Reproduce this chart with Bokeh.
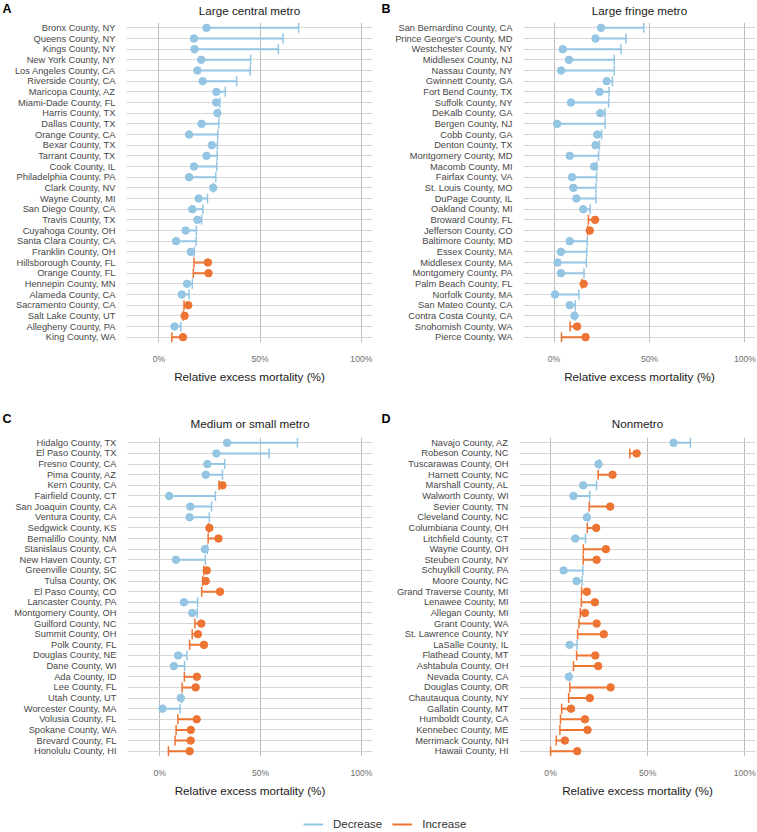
import math
from bokeh.plotting import figure
from bokeh.models import FactorRange, Range1d, FixedTicker, ColumnDataSource
from bokeh.core.properties import value
from bokeh.layouts import column, row
from bokeh.embed import file_html
from bokeh.resources import INLINE

# ---------------- data ----------------
x_ticks = [0, 50, 100]
x_tick_labels = ["0%", "50%", "100%"]
x_axis_title = "Relative excess mortality (%)"
legend_labels = ["Decrease", "Increase"]
panel_tags = ["A", "B", "C", "D"]

title_a = "Large central metro"
counties_a = ["Bronx County, NY", "Queens County, NY", "Kings County, NY", "New York County, NY",
              "Los Angeles County, CA", "Riverside County, CA", "Maricopa County, AZ", "Miami-Dade County, FL",
              "Harris County, TX", "Dallas County, TX", "Orange County, CA", "Bexar County, TX",
              "Tarrant County, TX", "Cook County, IL", "Philadelphia County, PA", "Clark County, NV",
              "Wayne County, MI", "San Diego County, CA", "Travis County, TX", "Cuyahoga County, OH",
              "Santa Clara County, CA", "Franklin County, OH", "Hillsborough County, FL", "Orange County, FL",
              "Hennepin County, MN", "Alameda County, CA", "Sacramento County, CA", "Salt Lake County, UT",
              "Allegheny County, PA", "King County, WA"]
start_a = [69.0, 61.3, 59.0, 45.3, 45.1, 38.4, 32.8, 30.1, 29.7, 29.6, 29.1, 28.9, 28.8, 28.6, 28.1,
           27.0, 24.0, 21.7, 21.1, 18.5, 18.4, 17.5, 17.3, 17.0, 16.5, 14.9, 12.4, 12.0, 10.8, 6.4]
end_a = [23.5, 17.3, 17.6, 20.9, 19.0, 21.6, 28.4, 28.3, 28.9, 21.1, 14.9, 26.1, 23.5, 17.3, 14.9,
         26.8, 19.6, 16.5, 19.0, 13.2, 8.5, 15.8, 24.2, 24.5, 13.9, 11.3, 14.5, 12.7, 7.7, 11.9]

title_b = "Large fringe metro"
counties_b = ["San Bernardino County, CA", "Prince George's County, MD", "Westchester County, NY",
              "Middlesex County, NJ", "Nassau County, NY", "Gwinnett County, GA", "Fort Bend County, TX",
              "Suffolk County, NY", "DeKalb County, GA", "Bergen County, NJ", "Cobb County, GA",
              "Denton County, TX", "Montgomery County, MD", "Macomb County, MI", "Fairfax County, VA",
              "St. Louis County, MO", "DuPage County, IL", "Oakland County, MI", "Broward County, FL",
              "Jefferson County, CO", "Baltimore County, MD", "Essex County, MA", "Middlesex County, MA",
              "Montgomery County, PA", "Palm Beach County, FL", "Norfolk County, MA", "San Mateo County, CA",
              "Contra Costa County, CA", "Snohomish County, WA", "Pierce County, WA"]
start_b = [47.0, 37.7, 35.1, 31.5, 31.5, 30.6, 28.8, 28.6, 26.7, 26.7, 24.9, 23.8, 23.3, 22.4, 22.3,
           21.9, 21.9, 18.9, 18.0, 17.6, 17.4, 17.1, 16.9, 15.7, 14.6, 13.0, 11.1, 11.0, 8.4, 3.9]
end_b = [24.6, 21.7, 4.6, 7.8, 3.7, 27.6, 23.8, 8.9, 24.2, 1.6, 22.6, 21.7, 8.2, 21.0, 9.4,
         10.1, 11.7, 15.3, 21.5, 18.7, 8.2, 3.6, 1.8, 3.6, 15.5, 0.5, 8.2, 10.7, 12.1, 16.5]

title_c = "Medium or small metro"
counties_c = ["Hidalgo County, TX", "El Paso County, TX", "Fresno County, CA", "Pima County, AZ",
              "Kern County, CA", "Fairfield County, CT", "San Joaquin County, CA", "Ventura County, CA",
              "Sedgwick County, KS", "Bernalillo County, NM", "Stanislaus County, CA", "New Haven County, CT",
              "Greenville County, SC", "Tulsa County, OK", "El Paso County, CO", "Lancaster County, PA",
              "Montgomery County, OH", "Guilford County, NC", "Summit County, OH", "Polk County, FL",
              "Douglas County, NE", "Dane County, WI", "Ada County, ID", "Lee County, FL",
              "Utah County, UT", "Worcester County, MA", "Volusia County, FL", "Spokane County, WA",
              "Brevard County, FL", "Honolulu County, HI"]
start_c = [68.3, 54.2, 32.2, 31.1, 29.4, 27.6, 25.7, 24.6, 24.2, 24.0, 23.6, 22.6, 21.8, 21.3, 20.8,
           18.8, 18.6, 17.4, 16.1, 14.8, 13.5, 12.3, 12.2, 11.1, 10.9, 10.1, 9.0, 8.1, 7.6, 4.3]
end_c = [33.4, 28.1, 23.6, 22.8, 31.1, 4.7, 15.1, 14.8, 24.6, 29.1, 22.4, 8.0, 23.3, 22.8, 29.9,
         12.0, 16.1, 20.6, 18.9, 21.9, 9.1, 7.0, 18.4, 17.8, 10.4, 1.3, 18.3, 15.4, 15.3, 14.8]

title_d = "Nonmetro"
counties_d = ["Navajo County, AZ", "Robeson County, NC", "Tuscarawas County, OH", "Harnett County, NC",
              "Marshall County, AL", "Walworth County, WI", "Sevier County, TN", "Cleveland County, NC",
              "Columbiana County, OH", "Litchfield County, CT", "Wayne County, OH", "Steuben County, NY",
              "Schuylkill County, PA", "Moore County, NC", "Grand Traverse County, MI", "Lenawee County, MI",
              "Allegan County, MI", "Grant County, WA", "St. Lawrence County, NY", "LaSalle County, IL",
              "Flathead County, MT", "Ashtabula County, OH", "Nevada County, CA", "Douglas County, OR",
              "Chautauqua County, NY", "Gallatin County, MT", "Humboldt County, CA", "Kennebec County, ME",
              "Merrimack County, NH", "Hawaii County, HI"]
start_d = [72.0, 40.8, 25.2, 24.5, 23.7, 20.2, 19.9, 19.2, 18.9, 18.0, 16.9, 16.8, 16.6, 16.2, 16.0,
           15.8, 15.3, 14.6, 13.9, 13.6, 13.4, 11.8, 10.1, 9.9, 9.3, 5.7, 5.1, 4.8, 2.9, 0.0]
end_d = [63.3, 44.3, 24.7, 31.9, 16.8, 11.8, 30.7, 18.7, 23.5, 12.7, 28.5, 23.7, 6.7, 13.4, 18.7,
         22.8, 17.7, 23.7, 27.4, 9.8, 23.0, 24.5, 9.4, 30.9, 20.2, 10.5, 17.7, 19.0, 7.4, 13.7]

# ---------------- style / layout ----------------
BLUE = "#94C5E3"
ORANGE = "#ED7432"
FONT = "Liberation Sans"
X_START, X_END = -16, 105.5
COL_W = 378


def make_panel(counties, start, end, width, height, left, top, bottom, right):
    colors = [BLUE if e < s else ORANGE for s, e in zip(start, end)]
    src = ColumnDataSource(dict(county=counties, start=start, end=end, color=colors))
    p = figure(width=width, height=height,
               y_range=FactorRange(factors=list(reversed(counties))),
               x_range=Range1d(X_START, X_END),
               output_backend="svg", toolbar_location=None,
               min_border_left=left, min_border_top=top,
               min_border_bottom=bottom, min_border_right=right)
    p.outline_line_color = None
    p.background_fill_color = "white"
    p.border_fill_color = "white"

    ticker = FixedTicker(ticks=x_ticks)
    p.xaxis.ticker = ticker
    p.xgrid.ticker = ticker
    p.xaxis.major_label_overrides = {t: l for t, l in zip(x_ticks, x_tick_labels)}
    p.xaxis.axis_label = x_axis_title
    p.xaxis.axis_label_text_font = FONT
    p.xaxis.axis_label_text_font_size = "11.7px"
    p.xaxis.axis_label_text_font_style = "normal"
    p.xaxis.axis_label_text_color = "#1a1a1a"
    p.xaxis.axis_label_standoff = 3
    p.xaxis.major_label_text_font = FONT
    p.xaxis.major_label_text_font_size = "8.6px"
    p.xaxis.major_label_text_color = "#6e6e6e"
    p.xaxis.major_label_standoff = 5
    p.xaxis.axis_line_color = None
    p.xaxis.major_tick_line_color = None
    p.xaxis.minor_tick_line_color = None

    p.yaxis.axis_line_color = None
    p.yaxis.major_tick_line_color = None
    p.yaxis.minor_tick_line_color = None
    p.yaxis.major_label_text_font = FONT
    p.yaxis.major_label_text_font_size = "9.3px"
    p.yaxis.major_label_text_color = "#474747"
    p.yaxis.major_label_standoff = 5

    p.xgrid.grid_line_color = "#bdbdbd"
    p.xgrid.grid_line_width = 1
    p.ygrid.grid_line_color = "#d6d6d6"
    p.ygrid.grid_line_width = 1

    p.segment(x0="start", y0="county", x1="end", y1="county", source=src,
              line_color="color", line_width=2)
    p.scatter(x="start", y="county", source=src, marker="dash", angle=math.pi / 2,
              size=10, line_color="color", line_width=1.5)
    p.scatter(x="end", y="county", source=src, marker="circle", size=7.5,
              fill_color="color", line_color="color")
    return p


def make_strip(height, tags, titles, title_centers, tag_y, title_y):
    s = figure(width=2 * COL_W, height=height, x_range=Range1d(0, 2 * COL_W),
               y_range=Range1d(height, 0), output_backend="svg", toolbar_location=None,
               min_border_left=0, min_border_right=0, min_border_top=0, min_border_bottom=0)
    s.axis.visible = False
    s.grid.visible = False
    s.outline_line_color = None
    s.text(x=[2, COL_W + 3], y=[tag_y, tag_y], text=tags, text_align="left",
           text_baseline="middle", text_font=value(FONT), text_font_size="12.5px",
           text_font_style="bold", text_color="#000000")
    s.text(x=title_centers, y=[title_y, title_y], text=titles, text_align="center",
           text_baseline="middle", text_font=value(FONT), text_font_size="11.7px",
           text_color="#1a1a1a")
    return s


# panel geometry (left, top, bottom, right borders)
A_geom = (126, 4, 68, 6)
B_geom = (145, 4, 68, 1)
C_geom = (127, 7, 50, 6)
D_geom = (141, 7, 50, 1)
TOP_H = 392
BOT_H = 376

pa = make_panel(counties_a, start_a, end_a, COL_W, TOP_H, *A_geom)
pb = make_panel(counties_b, start_b, end_b, COL_W, TOP_H, *B_geom)
pc = make_panel(counties_c, start_c, end_c, COL_W, BOT_H, *C_geom)
pd = make_panel(counties_d, start_d, end_d, COL_W, BOT_H, *D_geom)


def frame_center(offset, geom):
    left, _, _, right = geom
    return offset + (left + (COL_W - right)) / 2


strip_top = make_strip(18, panel_tags[:2], [title_a, title_b],
                       [frame_center(0, A_geom), frame_center(COL_W, B_geom)], 8, 10)
strip_bot = make_strip(20, panel_tags[2:], [title_c, title_d],
                       [frame_center(0, C_geom), frame_center(COL_W, D_geom)], 8, 13)

# legend strip
pl = figure(width=2 * COL_W, height=24, x_range=Range1d(0, 1), y_range=Range1d(0, 1),
            output_backend="svg", toolbar_location=None,
            min_border_left=0, min_border_right=0, min_border_top=0, min_border_bottom=0)
pl.axis.visible = False
pl.grid.visible = False
pl.outline_line_color = None
# hidden (off-range) renderers that only provide legend swatches
pl.line(x=[5, 6], y=[5, 5], line_color=BLUE, line_width=2, legend_label=legend_labels[0])
pl.line(x=[5, 6], y=[5, 5], line_color=ORANGE, line_width=2, legend_label=legend_labels[1])
pl.legend.location = (303, 0)
pl.legend.orientation = "horizontal"
pl.legend.border_line_color = None
pl.legend.background_fill_alpha = 0
pl.legend.label_text_font = FONT
pl.legend.label_text_font_size = "11.5px"
pl.legend.label_text_color = "#333333"
pl.legend.glyph_width = 20
pl.legend.glyph_height = 12
pl.legend.label_height = 12
pl.legend.label_standoff = 10
pl.legend.spacing = 10
pl.legend.padding = 0
pl.legend.margin = 0

layout = column(strip_top, row(pa, pb), strip_bot, row(pc, pd), pl)
open("out.html", "w").write(file_html(layout, INLINE))
